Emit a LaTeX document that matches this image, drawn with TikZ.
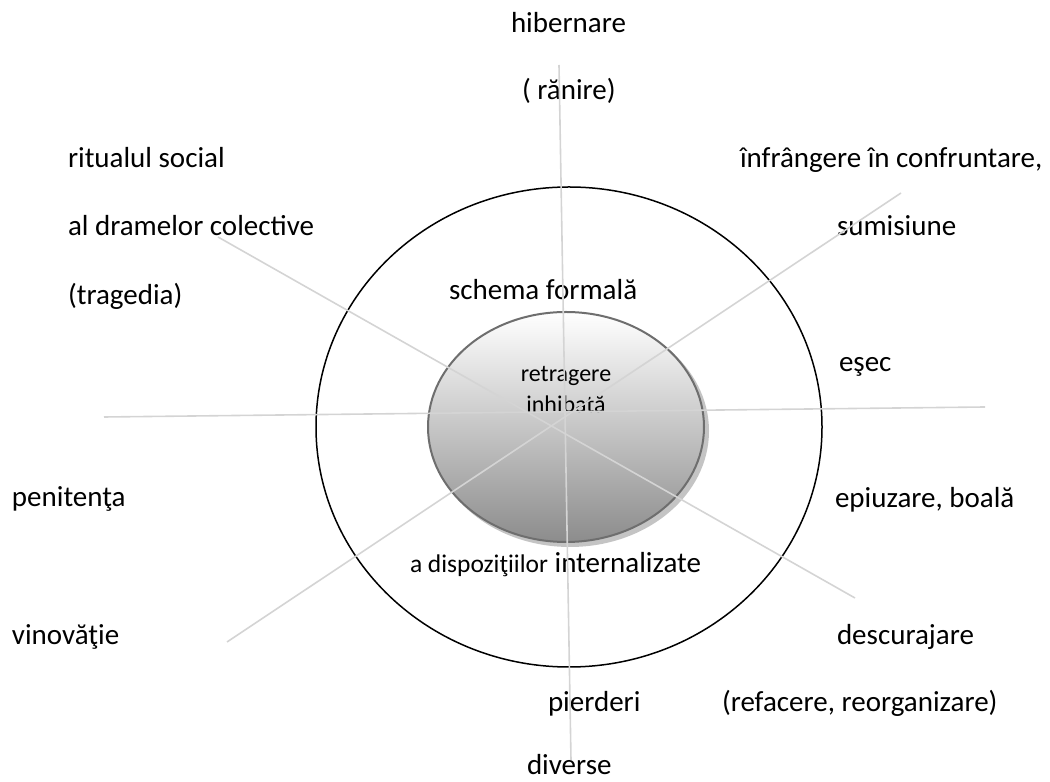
\documentclass[tikz,border=0pt]{standalone}
\usepackage{fontspec}
\setmainfont{Carlito}
\usetikzlibrary{shapes.geometric}

\definecolor{spokegray}{HTML}{D4D4D4}
\definecolor{rimgray}{HTML}{6E6E6E}
\definecolor{shadowgray}{HTML}{C4C4C4}

\tikzset{
  label/.style={inner sep=0pt, outer sep=0pt, anchor=base west,
    font=\fontsize{29}{34}\selectfont},
  smalllabel/.style={inner sep=0pt, outer sep=0pt, anchor=base,
    font=\fontsize{24}{28}\selectfont},
  spoke/.style={draw=spokegray, line width=1.6pt},
}

\begin{document}
\begin{tikzpicture}[x=1pt,y=1pt]
  \useasboundingbox (0,0) rectangle (1050,782);

  % outer ring: the formal scheme
  \node[ellipse, draw=black, line width=1.5pt, inner sep=0pt,
        minimum width=506pt, minimum height=480pt] (outer) at (569,355) {};

  % inner core with its soft shadow
  \node[ellipse, fill=shadowgray, inner sep=0pt,
        minimum width=278pt, minimum height=232pt] (coreshadow) at (570,351) {};
  \node[ellipse, draw=rimgray, line width=2pt, inner sep=0pt,
        top color=white, bottom color=black!45,
        minimum width=276pt, minimum height=230pt] (core) at (566,355) {};

  % labels
  \node[label] (hib) at (511,749) {hibernare};
  \node[label] (ran) at (522,682) {( rănire)};
  \node[label] (rit) at (68,614) {ritualul social};
  \node[label] (dram) at (68,546) {al dramelor colective};
  \node[label] (trag) at (68,477) {(tragedia)};
  \node[label] (infr) at (740,614) {înfrângere în confruntare,};
  \node[label] (sum) at (837,546) {sumisiune};
  \node[label] (schema) at (449,482) {schema formală};
  \node[label] (esec) at (839,410) {eşec};
  \node[smalllabel] (retr) at (566,400) {retragere};
  \node[smalllabel] (inhib) at (566,369) {inhibată};
  \node[label] (pen) at (12,275) {penitenţa};
  \node[label] (epu) at (835,274) {epiuzare, boală};
  \node[label] (disp) at (410,209)
    {{\fontsize{25.5}{30}\selectfont a dispoziţiilor} internalizate};
  \node[label] (vin) at (12,137) {vinovăţie};
  \node[label] (desc) at (837,137) {descurajare};
  \node[label] (pier) at (548,70) {pierderi};
  \node[label] (ref) at (722,70) {(refacere, reorganizare)};
  \node[label] (div) at (527,7) {diverse};

  % spoke end points
  \coordinate (sTop) at (559,717);
  \coordinate (sBottom) at (571,22);
  \coordinate (sLeft) at (104,365);
  \coordinate (sRight) at (985,375);
  \coordinate (sUL) at (218,545);
  \coordinate (sLR) at (855,184);
  \coordinate (sLL) at (227,140);
  \coordinate (sUR) at (901,589);

  % spokes through the centre
  \draw[spoke] (sTop) -- (sBottom);
  \draw[spoke] (sLeft) -- (sRight);
  \draw[spoke] (sUL) -- (sLR);
  \draw[spoke] (sLL) -- (sUR);
\end{tikzpicture}
\end{document}
